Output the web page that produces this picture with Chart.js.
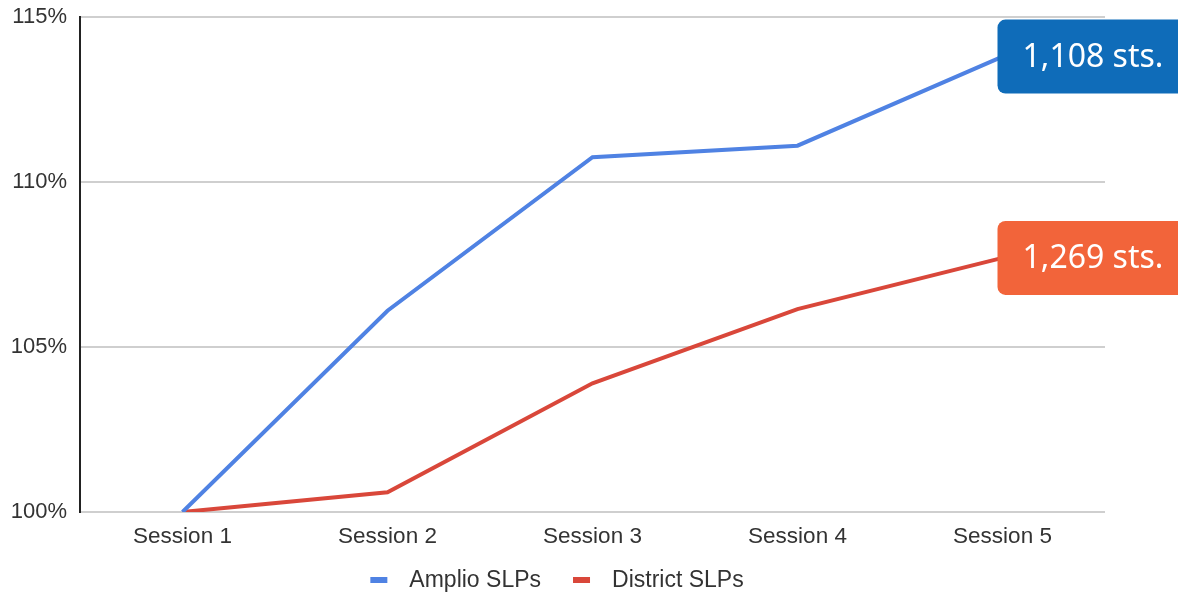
<!DOCTYPE html>
<html lang="en">
<head>
  <meta charset="UTF-8" />
  <title>Amplio vs District SLPs</title>
  <script src="https://cdn.jsdelivr.net/npm/chart.js"></script>
  <style>
    html, body {
      margin: 0;
      padding: 0;
      background: #fff;
    }
    #wrap {
      position: relative;
      width: 1178px;
      height: 595px;
    }
  </style>
</head>
<body>
<div id="wrap">
  <canvas id="growth"></canvas>
</div>

<script>
  const sessions = ['Session 1', 'Session 2', 'Session 3', 'Session 4', 'Session 5'];
  const amplioValues = [100, 106.1, 110.75, 111.1, 113.8];
  const districtValues = [100, 100.6, 103.9, 106.15, 107.7];
  const seriesNames = ['Amplio SLPs', 'District SLPs'];
  const badgeLabels = ['1,108 sts.', '1,269 sts.'];
  const yTicks = [100, 105, 110, 115];

  const lineColors = ['#4f82e3', '#d9473a'];
  const badgeColors = ['#0f6cb9', '#f2643a'];
  const axisFont = 'Arial, "Liberation Sans", sans-serif';

  // rounded tag stuck to the last point of each line
  const endBadges = {
    id: 'endBadges',
    afterDatasetsDraw(chart) {
      const ctx = chart.ctx;
      chart.data.datasets.forEach((ds, i) => {
        const meta = chart.getDatasetMeta(i);
        const pt = meta.data[meta.data.length - 1];
        const x = pt.x - 5;
        const h = 74;
        const y = pt.y - h / 2;
        const w = chart.width - x + 20;
        ctx.save();
        ctx.fillStyle = badgeColors[i];
        ctx.beginPath();
        ctx.roundRect(x, y, w, h, 8);
        ctx.fill();
        ctx.fillStyle = '#fff';
        ctx.font = '32px "Noto Sans", sans-serif';
        ctx.textBaseline = 'middle';
        ctx.fillText(badgeLabels[i], x + 25, pt.y + 1);
        ctx.restore();
      });
    }
  };

  // legend row under the axis: short thick bar + series name
  const bottomLegend = {
    id: 'bottomLegend',
    afterDraw(chart) {
      const ctx = chart.ctx;
      const markW = 17, markH = 6, gapText = 22, gapItem = 32;
      const cy = 580, centerX = 557;
      ctx.save();
      ctx.font = '23px ' + axisFont;
      const items = chart.data.datasets.map(ds => ({
        text: ds.label,
        color: ds.borderColor,
        w: ctx.measureText(ds.label).width
      }));
      const total = items.reduce((a, it) => a + markW + gapText + it.w, 0) + gapItem * (items.length - 1);
      let x = centerX - total / 2;
      ctx.textBaseline = 'middle';
      items.forEach(it => {
        ctx.fillStyle = it.color;
        ctx.fillRect(x, cy - markH / 2, markW, markH);
        x += markW + gapText;
        ctx.fillStyle = '#333';
        ctx.fillText(it.text, x, cy + 1);
        x += it.w + gapItem;
      });
      ctx.restore();
    }
  };

  new Chart(document.getElementById('growth'), {
    type: 'line',
    data: {
      labels: sessions,
      datasets: [
        {
          label: seriesNames[0],
          data: amplioValues,
          borderColor: lineColors[0],
          backgroundColor: lineColors[0],
          borderWidth: 4,
          pointRadius: 0,
          tension: 0
        },
        {
          label: seriesNames[1],
          data: districtValues,
          borderColor: lineColors[1],
          backgroundColor: lineColors[1],
          borderWidth: 4,
          pointRadius: 0,
          tension: 0
        }
      ]
    },
    options: {
      responsive: true,
      maintainAspectRatio: false,
      animation: false,
      layout: { padding: { top: 17, right: 73, left: 0, bottom: 43 } },
      plugins: {
        tooltip: { enabled: false },
        legend: { display: false }
      },
      scales: {
        x: {
          offset: true,
          grid: { display: false },
          border: { display: false },
          afterFit: s => { s.height = 40; },
          ticks: {
            color: '#333',
            padding: 3,
            font: { family: axisFont, size: 22.5 }
          }
        },
        y: {
          min: 100,
          max: 115,
          afterBuildTicks: s => { s.ticks = yTicks.map(v => ({ value: v })); },
          afterFit: s => { s.width = 80; s.paddingTop = 0; s.paddingBottom = 0; },
          grid: { color: '#cfcfcf', lineWidth: 2, drawTicks: false },
          border: { color: '#222', width: 2 },
          ticks: {
            color: '#333',
            padding: 13,
            callback: v => v + '%',
            font: { family: axisFont, size: 22 }
          }
        }
      }
    },
    plugins: [endBadges, bottomLegend]
  });
</script>
</body>
</html>
